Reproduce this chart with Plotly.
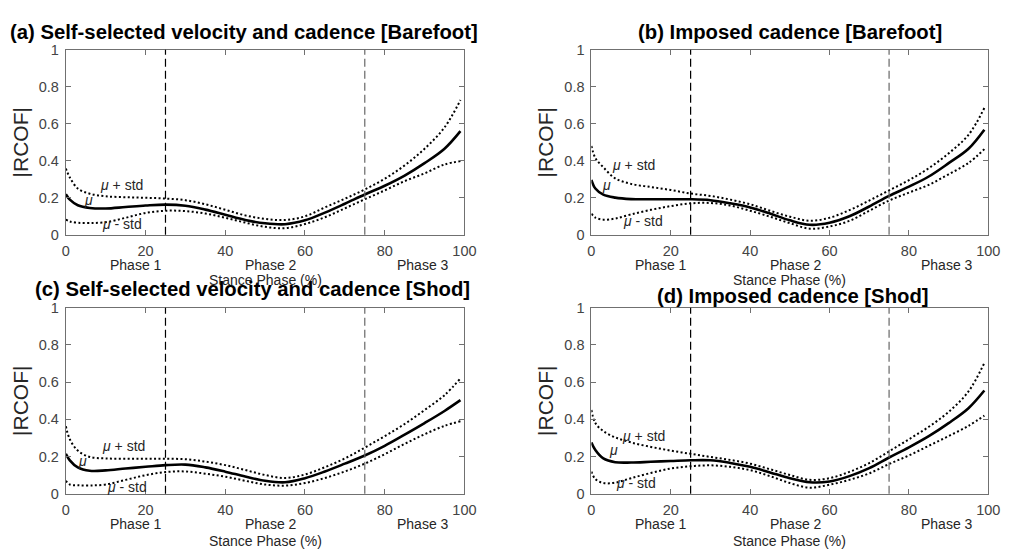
import plotly.graph_objects as go

# ---------------- data ----------------
stance = [0, 1, 3, 6, 10, 15, 20, 25, 30, 35, 40, 45, 50, 55, 60, 65, 70, 75, 80, 85, 90, 95, 99]

a_mean = [0.219, 0.19, 0.16, 0.145, 0.142, 0.15, 0.158, 0.163, 0.157, 0.136, 0.108, 0.08, 0.062, 0.057, 0.078, 0.12, 0.168, 0.218, 0.265, 0.32, 0.387, 0.465, 0.56]
a_up   = [0.358, 0.31, 0.25, 0.222, 0.208, 0.203, 0.2, 0.196, 0.187, 0.165, 0.135, 0.105, 0.086, 0.08, 0.1, 0.148, 0.195, 0.245, 0.303, 0.375, 0.465, 0.58, 0.728]
a_low  = [0.082, 0.072, 0.065, 0.064, 0.068, 0.092, 0.118, 0.13, 0.128, 0.115, 0.092, 0.066, 0.043, 0.036, 0.058, 0.095, 0.143, 0.192, 0.24, 0.29, 0.332, 0.38, 0.398]

b_mean = [0.297, 0.25, 0.217, 0.201, 0.193, 0.192, 0.192, 0.192, 0.187, 0.17, 0.148, 0.115, 0.078, 0.054, 0.065, 0.1, 0.153, 0.21, 0.26, 0.315, 0.387, 0.465, 0.568]
b_up   = [0.48, 0.415, 0.365, 0.305, 0.275, 0.258, 0.242, 0.223, 0.21, 0.19, 0.165, 0.13, 0.098, 0.076, 0.092, 0.133, 0.185, 0.24, 0.295, 0.36, 0.44, 0.54, 0.685]
b_low  = [0.114, 0.093, 0.082, 0.088, 0.11, 0.135, 0.155, 0.17, 0.172, 0.158, 0.13, 0.098, 0.063, 0.033, 0.045, 0.075, 0.13, 0.185, 0.228, 0.27, 0.327, 0.388, 0.463]

c_mean = [0.215, 0.18, 0.142, 0.124, 0.126, 0.136, 0.145, 0.154, 0.157, 0.142, 0.119, 0.093, 0.07, 0.062, 0.084, 0.12, 0.162, 0.206, 0.258, 0.318, 0.38, 0.445, 0.503]
c_up   = [0.363, 0.293, 0.232, 0.198, 0.19, 0.188, 0.188, 0.188, 0.186, 0.173, 0.154, 0.128, 0.101, 0.085, 0.104, 0.143, 0.19, 0.248, 0.31, 0.375, 0.45, 0.53, 0.62]
c_low  = [0.07, 0.05, 0.046, 0.045, 0.05, 0.075, 0.1, 0.117, 0.12, 0.108, 0.092, 0.07, 0.05, 0.044, 0.058, 0.085, 0.12, 0.162, 0.213, 0.268, 0.32, 0.365, 0.39]

d_mean = [0.276, 0.235, 0.19, 0.17, 0.168, 0.172, 0.176, 0.18, 0.18, 0.166, 0.145, 0.115, 0.084, 0.062, 0.066, 0.095, 0.138, 0.195, 0.25, 0.31, 0.38, 0.46, 0.555]
d_up   = [0.45, 0.38, 0.337, 0.303, 0.276, 0.252, 0.232, 0.215, 0.198, 0.182, 0.162, 0.132, 0.101, 0.075, 0.084, 0.118, 0.165, 0.228, 0.293, 0.36, 0.44, 0.55, 0.703]
d_low  = [0.119, 0.079, 0.058, 0.06, 0.084, 0.112, 0.136, 0.148, 0.153, 0.145, 0.127, 0.095, 0.058, 0.033, 0.049, 0.075, 0.11, 0.16, 0.206, 0.258, 0.31, 0.365, 0.42]

titles = ["(a) Self-selected velocity and cadence [Barefoot]",
          "(b) Imposed cadence [Barefoot]",
          "(c) Self-selected velocity and cadence [Shod]",
          "(d) Imposed cadence [Shod]"]
phase_labels = ["Phase 1", "Phase 2", "Phase 3"]
phase_pos = [17.5, 51.5, 89.5]
phase_bounds = [25, 75]
x_ticks = [0, 20, 40, 60, 80, 100]
y_ticks = [0, 0.2, 0.4, 0.6, 0.8, 1]
xlabel = "Stance Phase (%)"
ylabel = "|RCOF|"

# annotation positions for mu labels (x, y) per panel: [+std, mu, -std]
mu_pos = [
    [(14, 0.27), (5.8, 0.19), (14, 0.058)],
    [(10.5, 0.378), (3.8, 0.27), (13, 0.075)],
    [(14.5, 0.255), (4.3, 0.175), (15.3, 0.037)],
    [(13.2, 0.31), (5.6, 0.235), (11.3, 0.06)],
]

panels = [(a_mean, a_up, a_low), (b_mean, b_up, b_low),
          (c_mean, c_up, c_low), (d_mean, d_up, d_low)]

W, H = 1012, 555
OFF = 8  # page body margin
xdoms = [[(62.7 - OFF) / W, (467.7 - OFF) / W], [(596.7 - OFF) / W, (1000 - OFF) / W]]
ydoms = [[1 - (233.3 - OFF) / H, 1 - (42.7 - OFF) / H],
         [1 - (500 - OFF) / H, 1 - (308.3 - OFF) / H]]
title_px = [(244, 24), (798, 24), (252, 289), (802, 296)]

AX = "#707070"
FONT = "Liberation Sans, Arial, Helvetica, sans-serif"

fig = go.Figure()
layout = dict(width=W, height=H, margin=dict(l=0, r=0, t=0, b=0),
              paper_bgcolor="white", plot_bgcolor="white", showlegend=False)
annotations = []
shapes = []

for i, (mean, up, low) in enumerate(panels):
    n = i + 1
    xa = "x" if n == 1 else f"x{n}"
    ya = "y" if n == 1 else f"y{n}"
    col, row = i % 2, i // 2
    axis_common = dict(showline=True, linecolor=AX, linewidth=1, mirror="ticks",
                       ticks="inside", ticklen=5, tickcolor=AX, tickwidth=1,
                       showgrid=False, zeroline=False,
                       tickfont=dict(family=FONT, size=14.5, color="#444444"))
    layout["xaxis" if n == 1 else f"xaxis{n}"] = dict(
        axis_common, domain=xdoms[col], range=[0, 100], tickvals=x_ticks,
        anchor=ya, ticklabelstandoff=3)
    layout["yaxis" if n == 1 else f"yaxis{n}"] = dict(
        axis_common, domain=ydoms[row], range=[0, 1], tickvals=y_ticks,
        ticktext=[f"{v:g}" for v in y_ticks], anchor=xa, ticklabelstandoff=3,
        title=dict(text=ylabel, font=dict(family=FONT, size=21, color="#262626"),
                   standoff=4))

    for yy in (up, low):
        fig.add_trace(go.Scatter(x=stance, y=yy, mode="lines", xaxis=xa, yaxis=ya,
                                 line=dict(color="black", width=2, dash="2px,2.4px",
                                           shape="spline", smoothing=1.0),
                                 hoverinfo="skip"))
    fig.add_trace(go.Scatter(x=stance, y=mean, mode="lines", xaxis=xa, yaxis=ya,
                             line=dict(color="black", width=2.6, shape="spline",
                                       smoothing=1.0),
                             hoverinfo="skip"))

    for k, xb in enumerate(phase_bounds):
        shapes.append(dict(type="line", xref=xa, yref=f"{ya} domain", x0=xb, x1=xb,
                           y0=0, y1=1,
                           line=dict(color="black" if k == 0 else "#666666",
                                     width=1.2, dash="8px,4px")))

    for lab, px in zip(phase_labels, phase_pos):
        annotations.append(dict(text=lab, xref=xa, yref=f"{ya} domain", x=px, y=0,
                                yanchor="middle", xanchor="center", yshift=-30,
                                showarrow=False,
                                font=dict(family=FONT, size=14, color="#262626")))
    annotations.append(dict(text=xlabel, xref=f"{xa} domain", yref=f"{ya} domain",
                            x=0.5, y=0, yanchor="middle", xanchor="center",
                            yshift=-45 if row == 0 else -47, showarrow=False,
                            font=dict(family=FONT, size=14, color="#262626")))

    tx, ty = title_px[i]
    annotations.append(dict(text=f"<b>{titles[i]}</b>", xref="paper", yref="paper",
                            x=(tx - OFF) / W, y=1 - (ty - OFF) / H,
                            xanchor="center", yanchor="middle", showarrow=False,
                            font=dict(family=FONT, size=20.3, color="black")))

    mu_texts = ["<i>μ</i> + std", "<i>μ</i>", "<i>μ</i> - std"]
    for t, (mx, my) in zip(mu_texts, mu_pos[i]):
        annotations.append(dict(text=t, xref=xa, yref=ya, x=mx, y=my,
                                xanchor="center", yanchor="middle", showarrow=False,
                                font=dict(family=FONT, size=14, color="#262626")))

layout["annotations"] = annotations
layout["shapes"] = shapes
fig.update_layout(**layout)
fig.write_html("out.html")
